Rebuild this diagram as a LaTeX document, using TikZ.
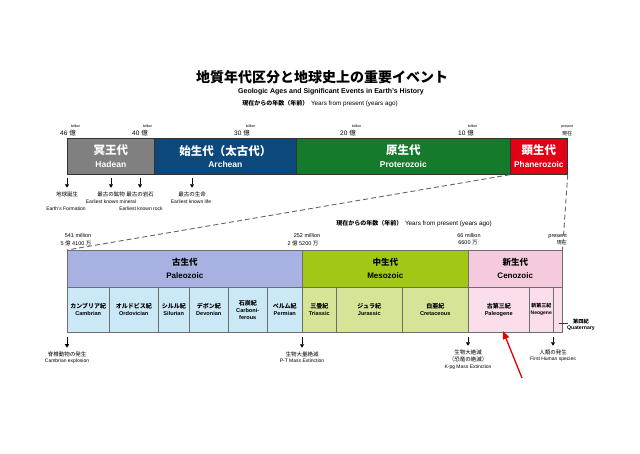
\documentclass[tikz,border=0pt]{standalone}
\usepackage{fontspec}
\setmainfont{Liberation Sans}
\newfontfamily\cjk{Noto Sans CJK JP}
\usetikzlibrary{arrows.meta}
\definecolor{hadcol}{RGB}{128,128,128}
\definecolor{arccol}{RGB}{12,72,124}
\definecolor{procol}{RGB}{22,122,44}
\definecolor{phacol}{RGB}{226,0,22}
\definecolor{palcol}{RGB}{168,178,226}
\definecolor{mescol}{RGB}{160,200,20}
\definecolor{cencol}{RGB}{246,202,222}
\definecolor{palper}{RGB}{202,232,246}
\definecolor{mesper}{RGB}{214,228,152}
\definecolor{cenper}{RGB}{250,222,236}
\definecolor{linegray}{RGB}{110,110,110}
\tikzset{
  topera/.style={draw=black!80, line width=0.7pt, anchor=north west, minimum height=36pt, inner sep=0pt, align=center, text=white},
  botera/.style={draw=linegray, line width=0.5pt, anchor=north west, minimum height=37pt, inner sep=0pt, align=center},
  perbox/.style={draw=linegray, line width=0.5pt, anchor=north west, minimum height=45pt, inner sep=0pt, align=center, font=\fontsize{5.6}{7}\selectfont\bfseries},
  evtxt/.style={inner sep=0pt, font=\fontsize{5}{6}\selectfont},
  evjp/.style={inner sep=0pt, font=\fontsize{5.5}{6.5}\cjk},
  evarrow/.style={line width=0.9pt, -{Triangle[length=3.5pt,width=4pt]}},
  ticknum/.style={inner sep=0pt, font=\fontsize{6.5}{7}\selectfont},
  bil/.style={inner sep=0pt, anchor=west, font=\fontsize{3.6}{4}\selectfont},
  axlab/.style={inner sep=0pt, font=\fontsize{5.5}{6}\selectfont},
  dashline/.style={dashed, dash pattern=on 5pt off 3pt, line width=0.9pt, draw=black!60},
}
\newcommand{\jp}[2]{{\fontsize{#1}{#1}\cjk\bfseries #2}}
\newcommand{\pj}[1]{{\fontsize{6}{7}\cjk\bfseries #1}}
\begin{document}
\begin{tikzpicture}[x=1pt,y=-1pt]
\useasboundingbox[fill=white] (0,0) rectangle (640,454);

% titles
\node[inner sep=0pt] (title) at (322,77) {\jp{14}{地質年代区分と地球史上の重要イベント}};
\node[inner sep=0pt] (subtitle) at (331,91.5) {\fontsize{7}{8}\selectfont\bfseries Geologic Ages and Significant Events in Earth’s History};
\node[inner sep=0pt] (axhead1) at (320,104) {\jp{6}{現在からの年数（年前）}\ \fontsize{6.3}{7}\selectfont Years from present (years ago)};

% top bar
\node[topera, fill=hadcol, minimum width=87pt] (had) at (67,138) {\jp{11.5}{冥王代}\\[0.5pt]{\fontsize{8.5}{9}\selectfont\bfseries Hadean}};
\node[topera, fill=arccol, minimum width=142pt] (arc) at (154,138) {\jp{11.5}{始生代（太古代）}\\[0.5pt]{\fontsize{8.5}{9}\selectfont\bfseries Archean}};
\node[topera, fill=procol, minimum width=214pt] (pro) at (296,138) {\jp{11.5}{原生代}\\[0.5pt]{\fontsize{8.5}{9}\selectfont\bfseries Proterozoic}};
\node[topera, fill=phacol, minimum width=57pt] (pha) at (510,138) {\jp{11.5}{顕生代}\\[0.5pt]{\fontsize{8.3}{9}\selectfont\bfseries Phanerozoic}};

% top tick labels
\node[ticknum] (t46) at (68,133.5) {46 {\cjk 億}};
\node[bil] (b46) at (71,126.5) {billion};
\node[ticknum] (t40) at (140,133.5) {40 {\cjk 億}};
\node[bil] (b40) at (143,126.5) {billion};
\node[ticknum] (t30) at (242,133.5) {30 {\cjk 億}};
\node[bil] (b30) at (246,126.5) {billion};
\node[ticknum] (t20) at (348,133.5) {20 {\cjk 億}};
\node[bil] (b20) at (352,126.5) {billion};
\node[ticknum] (t10) at (466,133.5) {10 {\cjk 億}};
\node[bil] (b10) at (468,126.5) {billion};
\node[bil] (bpres) at (561,126.5) {present};
\node[inner sep=0pt, anchor=west, font=\fontsize{5}{6}\cjk] (tpres) at (562,133.5) {現在};

% top events
\coordinate (ea1) at (67,178);
\coordinate (ea2) at (111,178);
\coordinate (ea3) at (140,178);
\coordinate (ea4) at (192,178);
\node[evjp] (ej1) at (67,194) {地球誕生};
\node[evjp] (ej2) at (111,194) {最古の鉱物};
\node[evjp] (ej3) at (140,194) {最古の岩石};
\node[evjp] (ej4) at (192,194) {最古の生命};
\draw[evarrow] (ea1) -- ([yshift=3.5pt]ej1.north);
\draw[evarrow] (ea2) -- ([yshift=3.5pt]ej2.north);
\draw[evarrow] (ea3) -- ([yshift=3.5pt]ej3.north);
\draw[evarrow] (ea4) -- ([yshift=3.5pt]ej4.north);
\node[evtxt] (ee1) at (66,209) {Earth’s Formation};
\node[evtxt] (ee2) at (111,202) {Earliest known mineral};
\node[evtxt] (ee3) at (141,209) {Earliest known rock};
\node[evtxt] (ee4) at (191,202) {Earliest known life};

% second axis
\node[inner sep=0pt] (axhead2) at (414,224) {\jp{6}{現在からの年数（年前）}\ \fontsize{6.3}{7}\selectfont Years from present (years ago)};
\node[axlab] (m541) at (78,236) {541 million};
\node[axlab] (j541) at (76,243) {5 {\cjk 億} 4100 {\cjk 万}};
\node[axlab] (m252) at (307,236) {252 million};
\node[axlab] (j252) at (303,243) {2 {\cjk 億} 5200 {\cjk 万}};
\node[axlab] (m66) at (469,236) {66 million};
\node[axlab] (j66) at (468,243) {6600 {\cjk 万}};
\node[axlab, anchor=east] (mpres) at (567,236) {present};
\node[axlab, anchor=east, font=\fontsize{5}{6}\cjk] (jpres) at (567,243) {現在};

% bottom eras
\node[botera, fill=palcol, minimum width=235pt] (pal) at (67,250) {\jp{8.5}{古生代}\\[1pt]{\fontsize{8}{9}\selectfont\bfseries Paleozoic}};
\node[botera, fill=mescol, minimum width=166pt] (mes) at (302,250) {\jp{8.5}{中生代}\\[1pt]{\fontsize{8}{9}\selectfont\bfseries Mesozoic}};
\node[botera, fill=cencol, minimum width=94pt] (cen) at (468,250) {\jp{8.5}{新生代}\\[1pt]{\fontsize{8}{9}\selectfont\bfseries Cenozoic}};

% dashed zoom lines
\draw[dashline] (pha.south west) -- (pal.north west);
\draw[dashline] (pha.south east) -- (cen.north east);

% periods
\node[perbox, fill=palper, minimum width=42pt] (cam) at (67,287) {\pj{カンブリア紀}\\Cambrian};
\node[perbox, fill=palper, minimum width=49pt] (ord) at (109,287) {\pj{オルドビス紀}\\Ordovician};
\node[perbox, fill=palper, minimum width=31pt] (sil) at (158,287) {\pj{シルル紀}\\Silurian};
\node[perbox, fill=palper, minimum width=39pt] (dev) at (189,287) {\pj{デボン紀}\\Devonian};
\node[perbox, fill=palper, minimum width=39pt] (car) at (228,287) {\pj{石炭紀}\\Carboni-\\ferous};
\node[perbox, fill=palper, minimum width=35pt] (per) at (267,287) {\pj{ペルム紀}\\Permian};
\node[perbox, fill=mesper, minimum width=34pt] (tri) at (302,287) {\pj{三畳紀}\\Triassic};
\node[perbox, fill=mesper, minimum width=66pt] (jur) at (336,287) {\pj{ジュラ紀}\\Jurassic};
\node[perbox, fill=mesper, minimum width=66pt] (cre) at (402,287) {\pj{白亜紀}\\Cretaceous};
\node[perbox, fill=cenper, minimum width=61pt] (pgn) at (468,287) {\pj{古第三紀}\\Paleogene};
\node[perbox, fill=cenper, minimum width=24pt, font=\fontsize{5}{7}\selectfont\bfseries] (ngn) at (529,287) {{\fontsize{5}{7}\cjk\bfseries 新第三紀}\\Neogene};
\node[perbox, fill=cenper, minimum width=9pt] (qua) at (553,287) {};

% quaternary label
\node[inner sep=0pt, align=center, font=\fontsize{5.2}{6.5}\selectfont\bfseries] (qlab) at (581,325) {{\cjk\bfseries 第四紀}\\Quaternary};
\coordinate (qc) at (559,323);
\coordinate (qe) at (568,323);
\draw[line width=0.5pt, draw=black!80] (qc) -- (qe);

% bottom events
\coordinate (ba1) at (67,337);
\coordinate (ba2) at (302,337);
\coordinate (ba3) at (468,337);
\coordinate (ba4) at (553,337);
\node[evjp] (bj1) at (67,354) {脊椎動物の発生};
\node[evtxt] (be1) at (67,361) {Cambrian explosion};
\node[evjp] (bj2) at (302,354) {生物大量絶滅};
\node[evtxt] (be2) at (302,361) {P-T Mass Extinction};
\node[evjp] (bj3) at (468,352) {生物大絶滅};
\node[evjp] (bj3b) at (468,359) {（恐竜の絶滅）};
\node[evtxt] (be3) at (468,367) {K-pg Mass Extinction};
\node[evjp] (bj4) at (553,352) {人類の発生};
\node[evtxt] (be4) at (553,359) {First Human species};
\draw[evarrow] (ba1) -- ([yshift=3.5pt]bj1.north);
\draw[evarrow] (ba2) -- ([yshift=3.5pt]bj2.north);
\draw[evarrow] (ba3) -- ([yshift=3.5pt]bj3.north);
\draw[evarrow] (ba4) -- ([yshift=3.5pt]bj4.north);

% red pointer
\coordinate (rtail) at (522,378);
\coordinate (rtip) at (503,331);
\draw[draw=red!90!black, line width=1.3pt, -{Triangle[length=8pt,width=6.5pt]}] (rtail) -- (rtip);
\end{tikzpicture}
\end{document}
